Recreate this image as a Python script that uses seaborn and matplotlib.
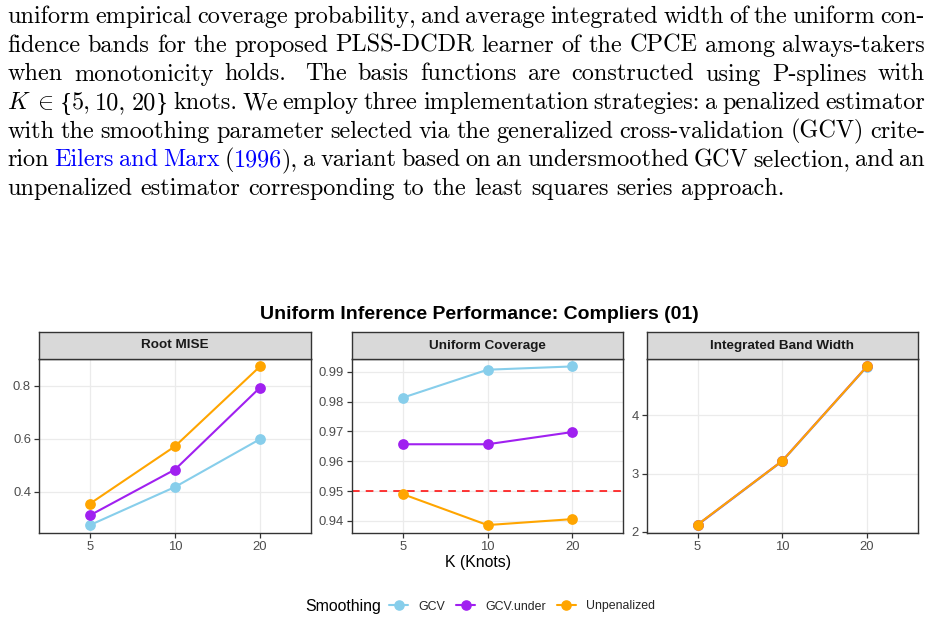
import matplotlib
matplotlib.use("Agg")
import matplotlib.pyplot as plt
import seaborn as sns
import pandas as pd
from matplotlib.lines import Line2D
from matplotlib.ticker import FixedLocator, FixedFormatter

# ---------------- data ----------------
knots = ["5", "10", "20"]
methods = ["GCV", "GCV.under", "Unpenalized"]
colors = ["#87CEEB", "#A020F0", "#FFA500"]

rmise_gcv = [0.274, 0.418, 0.599]
rmise_under = [0.311, 0.484, 0.794]
rmise_unpen = [0.355, 0.572, 0.874]

cov_gcv = [0.9813, 0.9907, 0.9918]
cov_under = [0.9657, 0.9657, 0.9698]
cov_unpen = [0.9490, 0.9386, 0.9406]

width_gcv = [2.118, 3.212, 4.832]
width_under = [2.122, 3.218, 4.838]
width_unpen = [2.125, 3.217, 4.837]

panel_titles = ["Root MISE", "Uniform Coverage", "Integrated Band Width"]
yticks_rmise = [0.4, 0.6, 0.8]
ylabels_rmise = ["0.4", "0.6", "0.8"]
yticks_cov = [0.94, 0.95, 0.96, 0.97, 0.98, 0.99]
ylabels_cov = ["0.94", "0.95", "0.96", "0.97", "0.98", "0.99"]
yticks_width = [2, 3, 4]
ylabels_width = ["2", "3", "4"]
nominal_level = 0.95

title_text = "Uniform Inference Performance: Compliers (01)"
xlabel_text = "K (Knots)"
legend_title = "Smoothing"

BLACK = "black"
BLUE = "#0000FF"
# "|" after a word = wider (sentence) space; {...} = blue citation text;
# [ and ] stand for the set braces, drawn in a serif font
paragraph = [
    "uniform empirical coverage probability, and average integrated width of the uniform con-",
    "fidence bands for the proposed PLSS-DCDR learner of the CPCE among always-takers",
    "when monotonicity holds.| The basis functions are constructed using P-splines with",
    "$K\\;\\in$ [5, 10, 20] knots. We employ three implementation strategies: a penalized estimator",
    "with the smoothing parameter selected via the generalized cross-validation (GCV) crite-",
    "rion {Eilers} {and} {Marx} ({1996}), a variant based on an undersmoothed GCV selection, and an",
    "unpenalized estimator corresponding to the least squares series approach.",
]

# ---------------- figure ----------------
W, H = 932, 622
sns.set_theme(style="white")
plt.rcParams["font.family"] = ["Liberation Sans", "DejaVu Sans"]
plt.rcParams["mathtext.fontset"] = "cm"
fig = plt.figure(figsize=(W / 100, H / 100), dpi=100)
fig.patch.set_facecolor("white")


def rect(x0, y0, x1, y1):
    return [x0 / W, 1 - y1 / H, (x1 - x0) / W, (y1 - y0) / H]


rows = []
for metric, series in zip(panel_titles,
                          [(rmise_gcv, rmise_under, rmise_unpen),
                           (cov_gcv, cov_under, cov_unpen),
                           (width_gcv, width_under, width_unpen)]):
    for m, vals in zip(methods, series):
        for k, v in zip(knots, vals):
            rows.append({"metric": metric, "K": k, "Smoothing": m, "value": v})
df = pd.DataFrame(rows)

panel_x = [(39, 311), (351.7, 623.3), (646.7, 917.7)]
p_top, p_bot = 358.5, 533
s_top = 332.5
ticks = [(yticks_rmise, ylabels_rmise), (yticks_cov, ylabels_cov), (yticks_width, ylabels_width)]
border_col = "#333333"

for i, (metric, (x0, x1)) in enumerate(zip(panel_titles, panel_x)):
    ax = fig.add_axes(rect(x0, p_top, x1, p_bot))
    sub = df[df["metric"] == metric]
    sns.pointplot(data=sub, x="K", y="value", hue="Smoothing", order=knots,
                  hue_order=methods, palette=colors, markers="o", linestyles="-",
                  errorbar=None, dodge=False, legend=False, ax=ax,
                  markersize=6.6, linewidth=1.5)
    if i == 1:
        ax.axhline(nominal_level, color="red", lw=1.1, ls=(0, (5, 4)), zorder=1)
    ax.set_xlim(-0.6, 2.6)
    vmin, vmax = sub["value"].min(), sub["value"].max()
    pad = (vmax - vmin) * 0.05
    ax.set_ylim(vmin - pad, vmax + pad)
    ax.yaxis.set_major_locator(FixedLocator(ticks[i][0]))
    ax.yaxis.set_major_formatter(FixedFormatter(ticks[i][1]))
    ax.set_xlabel("")
    ax.set_ylabel("")
    ax.grid(True, color="#EBEBEB", lw=0.9)
    ax.set_axisbelow(True)
    for sp in ax.spines.values():
        sp.set_color(border_col)
        sp.set_linewidth(1.0)
        sp.set_visible(True)
    ax.tick_params(axis="both", which="major", length=3.7, width=0.9, color=border_col,
                   labelsize=9.4, labelcolor="#4D4D4D", pad=2, direction="out",
                   bottom=True, left=True)
    # strip
    sax = fig.add_axes(rect(x0, s_top, x1, p_top))
    sax.set_xticks([])
    sax.set_yticks([])
    sax.set_facecolor("#D9D9D9")
    for sp in sax.spines.values():
        sp.set_color(border_col)
        sp.set_linewidth(1.0)
    sax.text(0.5, 0.5, metric, transform=sax.transAxes, ha="center", va="center",
             fontsize=9.7, fontweight="bold", color="#1A1A1A")

fig.text(479.5 / W, 1 - 314.5 / H, title_text, ha="center", va="center",
         fontsize=14, fontweight="bold", color="black")
fig.text(478 / W, 1 - 563 / H, xlabel_text, ha="center", va="center",
         fontsize=11.4, color="black")
fig.text(305 / W, 1 - 606.5 / H, legend_title, ha="left", va="center",
         fontsize=11.4, color="black")
handles = [Line2D([0], [0], color=c, lw=1.5, marker="o", markersize=6.6) for c in colors]
fig.legend(handles, methods, loc="center left", bbox_to_anchor=(389 / W, 1 - 606.5 / H),
           ncol=3, frameon=False, fontsize=8.9, handlelength=1.55, handletextpad=0.8,
           columnspacing=0.9, borderpad=0, borderaxespad=0)

# ---------------- paragraph (justified) ----------------
renderer = fig.canvas.get_renderer()
body_family = "cmr10"
brace_family = "Liberation Serif"


def parse_line(s):
    words = []
    gapw = []
    for tok in s.split(" "):
        w = 1.0
        if tok.endswith("|"):
            tok = tok[:-1]
            w = 1.6
        if tok.startswith("$"):
            words.append([(tok, BLACK, body_family)])
            gapw.append(w)
            continue
        segs = []
        buf = ""
        blue = False
        for ch in tok:
            if ch == "{":
                if buf:
                    segs.append((buf, BLACK, body_family))
                buf = ""
                blue = True
            elif ch == "}" and blue:
                segs.append((buf, BLUE, body_family))
                buf = ""
                blue = False
            elif ch in "[]":
                if buf:
                    segs.append((buf, BLUE if blue else BLACK, body_family))
                buf = ""
                segs.append(("{" if ch == "[" else "}", BLACK, brace_family))
            else:
                buf += ch
        if buf:
            segs.append((buf, BLUE if blue else BLACK, body_family))
        words.append(segs)
        gapw.append(w)
    return words, gapw[:-1]


def measure(s, fs, fam):
    t = fig.text(0, 0, s, fontsize=fs, family=fam)
    wd = t.get_window_extent(renderer).width
    t.remove()
    return wd


# calibrate font size from the last (unjustified) line width
fs0 = 10.0
last_words, _ = parse_line(paragraph[-1])
nat = sum(measure(s, fs0, f) for w in last_words for s, _, f in w)
space0 = fs0 * 100 / 72 * 0.333
nat += space0 * (len(last_words) - 1)
fs = fs0 * (786 - 7.3) / nat
space = fs * 100 / 72 * 0.333

x_left, x_right = 7.3, 925.0
baselines = [23.3, 51.9, 80.5, 109.1, 137.7, 166.3, 195.0]
for li, (line, yb) in enumerate(zip(paragraph, baselines)):
    words, gapw = parse_line(line)
    arts = []
    widths = []
    for w in words:
        segs = []
        tot = 0
        for s, c, fam in w:
            size = fs * 1.05 if fam == brace_family else fs
            t = fig.text(0, 1 - yb / H, s, fontsize=size, family=fam, color=c,
                         ha="left", va="baseline")
            wd = t.get_window_extent(renderer).width
            segs.append((t, wd))
            tot += wd
        arts.append(segs)
        widths.append(tot)
    if li < len(paragraph) - 1 and gapw:
        unit = (x_right - x_left - sum(widths)) / sum(gapw)
        gaps = [g * unit for g in gapw]
    else:
        gaps = [space] * len(gapw)
    x = x_left
    for j, segs in enumerate(arts):
        for t, wd in segs:
            t.set_x(x / W)
            x += wd
        if j < len(gaps):
            x += gaps[j]

fig.savefig("out.png", dpi=100, facecolor="white")
